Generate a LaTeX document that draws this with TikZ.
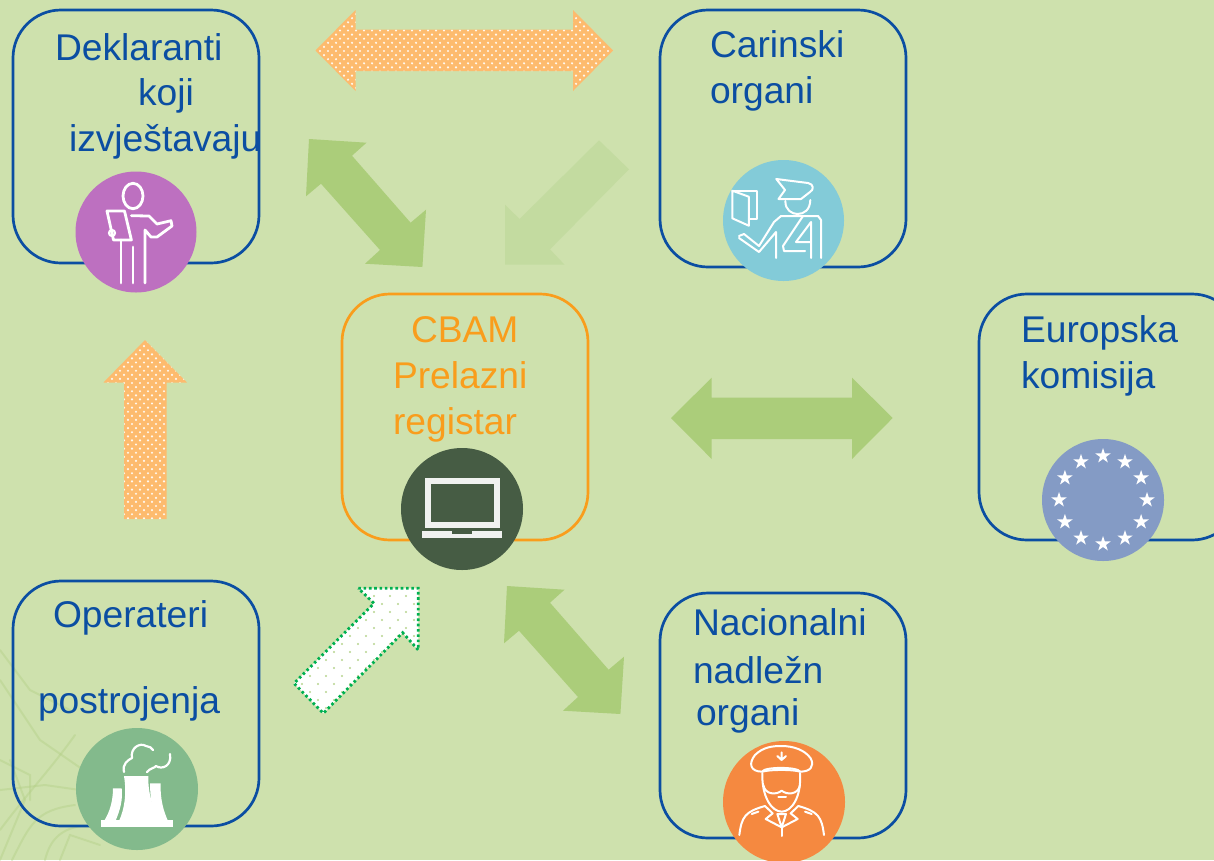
\documentclass[tikz,border=0pt]{standalone}
\usepackage{fontspec}
\setmainfont{Liberation Sans}
\usetikzlibrary{calc}
\definecolor{bgc}{HTML}{CEE1AD}
\definecolor{blueln}{HTML}{0B4EA2}
\definecolor{orgln}{HTML}{F99D1C}
\definecolor{orgarrow}{HTML}{FDBB6E}
\definecolor{grnarrow}{HTML}{ABCD7A}
\definecolor{palearrow}{HTML}{C3DBA0}
\definecolor{twig}{HTML}{B4D088}
\definecolor{dotgreen}{HTML}{00B050}
\definecolor{cpurple}{HTML}{BD70C0}
\definecolor{cteal}{HTML}{83CBD8}
\definecolor{cdark}{HTML}{465C44}
\definecolor{cblue}{HTML}{849BC5}
\definecolor{cgreen}{HTML}{83BA8C}
\definecolor{corange}{HTML}{F58940}
\tikzset{
  x=1pt,y=-1pt,
  card/.style={draw=blueln,line width=2.7pt,rounded corners=48pt},
  cardo/.style={draw=orgln,line width=2.7pt,rounded corners=48pt},
  lbl/.style={font=\fontsize{37.2}{37.2}\selectfont,text=blueln,anchor=base west,inner sep=0pt,outer sep=0pt},
  lblo/.style={lbl,text=orgln},
  disc/.style={circle,draw=none,minimum size=122pt,inner sep=0pt,outer sep=0pt},
  icon/.style={draw=white,line width=2.8pt,line cap=round,line join=round},
  iconthin/.style={draw=white,line width=2pt,line cap=round,line join=round},
}
\newcommand{\dotgrid}[8]{% x0 y0 nx ny dx dy radius colour
  \foreach \i in {0,...,#4}{\foreach \j in {0,...,#3}{
    \fill[#8] ({#1+\j*#5+mod(\i,2)*#5/2},{#2+\i*#6}) circle (#7);}}}
\begin{document}
\begin{tikzpicture}
\useasboundingbox (0,0) rectangle (1214,860);
\fill[bgc] (0,0) rectangle (1214,860);
% faint branches
\begin{scope}[draw=twig,opacity=.45,line width=2pt,line cap=round]
\draw (0,680) -- (40,740) -- (95,778);
\draw (0,830) .. controls (30,790) and (50,770) .. (75,735);
\draw (0,790) -- (45,785) -- (80,790);
\draw (12,860) .. controls (30,825) and (35,810) .. (75,805);
\draw (0,760) -- (30,775) -- (30,800);
\draw (45,860) .. controls (50,840) and (60,830) .. (80,826);
\draw (0,650) -- (30,690) -- (70,710);
\draw (0,860) -- (25,800) -- (10,760);
\draw (60,860) -- (70,835) -- (100,845);
\end{scope}
% boxes
\draw[card] (13,10) rectangle (259,263);
\draw[card] (660,10) rectangle (906,267);
\draw[card] (979,294) rectangle (1240,540);
\draw[cardo] (342,294) rectangle (588,540);
\draw[card] (13,581) rectangle (259,826);
\draw[card] (660,593) rectangle (906,838);
% orange double arrow
\begin{scope}
\path[fill=orgarrow] (315.5,50.5) -- (355.5,10) -- (355.5,29.5) -- (573,29.5) -- (573,10) -- (613,50.5) -- (573,91) -- (573,71) -- (355.5,71) -- (355.5,91) -- cycle;
\clip (315.5,50.5) -- (355.5,10) -- (355.5,29.5) -- (573,29.5) -- (573,10) -- (613,50.5) -- (573,91) -- (573,71) -- (355.5,71) -- (355.5,91) -- cycle;
\dotgrid{312}{10}{38}{20}{8}{4.1}{1.2pt}{white!90!orgarrow}
\end{scope}
% orange up arrow
\begin{scope}
\path[fill=orgarrow] (145,340) -- (187,382.5) -- (166.7,382.5) -- (166.7,519) -- (124,519) -- (124,382.5) -- (103.5,382.5) -- cycle;
\clip (145,340) -- (187,382.5) -- (166.7,382.5) -- (166.7,519) -- (124,519) -- (124,382.5) -- (103.5,382.5) -- cycle;
\dotgrid{100}{342}{12}{44}{8}{4.1}{1.2pt}{white!90!orgarrow}
\end{scope}
% green arrows
\fill[grnarrow] (309,139) -- (366.5,142.7) -- (352,155.7) -- (410.6,222.7) -- (426,209.7) -- (422.4,267) -- (365,263.7) -- (380,250) -- (321,183.7) -- (306,196.3) -- cycle;
\fill[grnarrow,shift={(198,447)}] (309,139) -- (366.5,142.7) -- (352,155.7) -- (410.6,222.7) -- (426,209.7) -- (422.4,267) -- (365,263.7) -- (380,250) -- (321,183.7) -- (306,196.3) -- cycle;
\fill[palearrow] (599,140.3) -- (629,169.3) -- (550,249.3) -- (564.5,264.7) -- (505,264.7) -- (505,204.7) -- (519.6,219) -- cycle;
\fill[grnarrow] (671,418) -- (711.7,377.7) -- (711.7,397.7) -- (852,397.7) -- (852,377.7) -- (892.7,418) -- (852,459) -- (852,439) -- (711.7,439) -- (711.7,459) -- cycle;
% white dotted arrow
\begin{scope}
\path[fill=white] (358.3,588.3) -- (418.3,588.3) -- (418.3,650) -- (402.7,632.7) -- (323.3,713.3) -- (294,683.3) -- (374,603.3) -- cycle;
\clip (358.3,588.3) -- (418.3,588.3) -- (418.3,650) -- (402.7,632.7) -- (323.3,713.3) -- (294,683.3) -- (374,603.3) -- cycle;
\dotgrid{294}{596}{9}{14}{16}{8}{1.2pt}{grnarrow!85!white}
\end{scope}
\draw[dotgreen,line width=2.8pt,dash pattern=on 2.6pt off 2.7pt] (358.3,588.3) -- (418.3,588.3) -- (418.3,650) -- (402.7,632.7) -- (323.3,713.3) -- (294,683.3) -- (374,603.3) -- cycle;
% labels
\node[lbl] (t1) at (55,60) {Deklaranti};
\node[lbl] (t2) at (138,105) {koji};
\node[lbl] (t3) at (69,151) {izvještavaju};
\node[lbl] (t4) at (710,57) {Carinski};
\node[lbl] (t5) at (710,103) {organi};
\node[lblo] (t6) at (411,342) {CBAM};
\node[lblo] (t7) at (393,388) {Prelazni};
\node[lblo] (t8) at (393,434) {registar};
\node[lbl] (t9) at (1021,342) {Europska};
\node[lbl] (t10) at (1021,388) {komisija};
\node[lbl] (t11) at (53,627) {Operateri};
\node[lbl] (t12) at (38,713) {postrojenja};
\node[lbl] (t13) at (693,635) {Nacionalni};
\node[lbl] (t14) at (693,683) {nadležn};
\node[lbl] (t15) at (696,725) {organi};
% discs
\node[disc,fill=cpurple,minimum size=121pt] (d1) at (136,232) {};
\node[disc,fill=cteal,minimum size=121pt] (d2) at (783.5,220.5) {};
\node[disc,fill=cdark] (d3) at (462,509) {};
\node[disc,fill=cblue] (d4) at (1103,500) {};
\node[disc,fill=cgreen] (d5) at (137,789) {};
\node[disc,fill=corange] (d6) at (784,802) {};
% person
\draw[icon] (133,196) ellipse (10 and 12.7);
\draw[icon] (107,211) -- (124.5,211) -- (131.4,240) -- (113.5,240) -- cycle;
\draw[icon,line width=2.2pt] (112,233) circle (3);
\draw[icon] (131.4,215.7) -- (149,216) -- (157,224) -- (171,220.7) -- (172,226) -- (157,237) -- (151,237) -- (145,230) -- (145,283);
\draw[icon] (133,247) -- (133,283) (121,240) -- (121,283);
% customs officer
\draw[iconthin] (732.3,190.7) -- (756.5,190.7) -- (756.5,219.3) -- (748.8,219.3);
\draw[iconthin] (732.3,190.7) -- (748.8,196.7) -- (748.8,225.7) -- (732.3,218.3) -- cycle;
\draw[iconthin] (776.3,179) -- (808,183) .. controls (814,184) and (814,190) .. (810,192) -- (801,199) -- (778.5,199) -- (785,190) -- cycle;
\draw[iconthin] (785.4,201) .. controls (785,210) and (792,214) .. (797.5,214) .. controls (804,214) and (810,210) .. (810.3,200);
\draw[iconthin] (739,236) -- (744,234) -- (759,246) -- (774,222) -- (781,216) -- (818,216) -- (821,220) -- (821,258);
\draw[iconthin] (739,238) -- (759,252) -- (776,232) -- (776,258);
\draw[iconthin] (803,216) -- (783,246) -- (784,251) -- (805,251);
\draw[iconthin] (811,222) -- (796,242) -- (811,242) (811,222) -- (811,258);
% laptop
\draw[white!92!cdark,line width=6pt,line join=miter] (428.3,481.3) rectangle (496.7,524.7);
\fill[white!92!cdark] (421.7,530.7) rectangle (502.3,538.3);
\fill[cdark] (451.7,530.7) rectangle (471.7,534);
% stars
\foreach \k in {0,...,11}{
  \coordinate (s\k) at ($(d4)+({44*sin(\k*30)},{-44*cos(\k*30)})$);
  \fill[white,shift={(s\k)},scale=1.15] (0,-7) -- ++(1.6,4.8) -- ++(5.1,0) -- ++(-4.1,3) -- ++(1.6,4.8) -- ++(-4.2,-3) -- ++(-4.2,3) -- ++(1.6,-4.8) -- ++(-4.1,-3) -- ++(5.1,0) -- cycle;
}
% power plant
\fill[white] (101.3,820) rectangle (172.7,826.7);
\fill[white] (124,776) -- (148.3,776) .. controls (148,795) and (153,810) .. (163,821) -- (119,821) .. controls (124,810) and (127,795) .. cycle;
\fill[white] (113,788.3) -- (121.7,788.3) .. controls (123,800) and (120,810) .. (115.5,821) -- (104,821) .. controls (110,812) and (113,800) .. cycle;
\fill[white] (150,783.3) -- (160.7,783.3) .. controls (160,800) and (164,812) .. (168,821) -- (155.5,821) .. controls (152,810) and (150,795) .. cycle;
\draw[icon,line width=2.2pt] (124,772) .. controls (122,764) and (128,760) .. (132,758) .. controls (130,748) and (140,742) .. (146,746) .. controls (149,746) and (152,748) .. (153,750);
\draw[icon,line width=2.2pt] (147,772) .. controls (150,768) and (155,768) .. (156,766) .. controls (162,770) and (172,766) .. (170,754);
% general
\begin{scope}[shift={(700,720)},x=.3333pt,y=-.3333pt]
\draw[iconthin] (187,155) .. controls (150,155) and (145,130) .. (165,105) .. controls (190,80) and (220,78) .. (245,78) .. controls (280,78) and (315,90) .. (332,115) .. controls (345,140) and (330,155) .. (300,155);
\draw[iconthin] (187,155) .. controls (190,140) and (295,140) .. (300,155);
\draw[iconthin] (187,155) .. controls (210,148) and (280,148) .. (300,155);
\draw[iconthin] (245,97) -- (245,120) (232,108) -- (245,120) -- (258,108);
\draw[iconthin] (187,160) .. controls (185,230) and (215,275) .. (245,275) .. controls (275,275) and (305,230) .. (300,160);
\draw[iconthin] (190,195) .. controls (195,225) and (230,225) .. (245,212) .. controls (260,225) and (295,225) .. (300,195);
\draw[iconthin] (235,232) -- (258,232);
\draw[iconthin] (118,345) .. controls (125,290) and (135,275) .. (195,258);
\draw[iconthin] (372,345) .. controls (365,290) and (355,275) .. (295,258);
\draw[iconthin] (195,258) -- (218,280) -- (197,297) -- (245,322) -- (293,297) -- (272,280) -- (295,258);
\draw[iconthin] (232,282) -- (258,282) -- (245,322) -- cycle;
\draw[iconthin] (245,322) -- (245,348);
\draw[iconthin] (155,282) -- (175,275) (315,275) -- (335,282);
\end{scope}
\end{tikzpicture}
\end{document}
